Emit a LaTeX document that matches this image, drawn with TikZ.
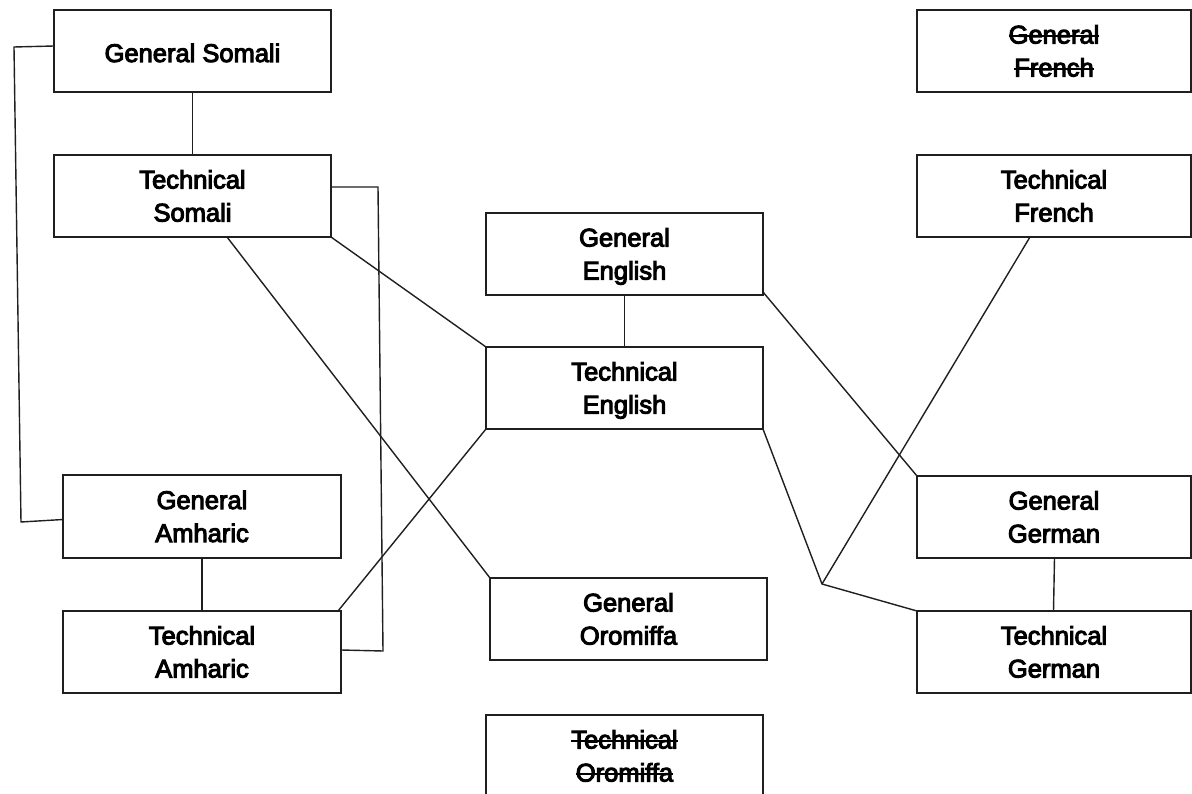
\documentclass[tikz,border=0pt]{standalone}
\usepackage{fontspec}
\setmainfont{Liberation Sans}
\newfontfamily\boxfont{Liberation Sans}[FakeBold=4]
\newsavebox{\strkbox}
\newcommand{\strk}[1]{\sbox{\strkbox}{#1}\rlap{\rule[0.25em]{\wd\strkbox}{1.8pt}}\usebox{\strkbox}}
\newcommand{\twol}[2]{\raisebox{0pt}[51pt][0pt]{\begin{tabular}[b]{@{}c@{}}#1\\#2\end{tabular}}}
\newcommand{\onel}[1]{\raisebox{0pt}[22pt][0pt]{#1}}
\begin{document}
\begin{tikzpicture}[x=1pt,y=-1pt,
  box/.style={draw=black!88, line width=1.4pt, rectangle, inner sep=0pt, outer sep=0pt,
    minimum width=277pt, minimum height=82pt, align=center,
    font=\boxfont\fontsize{25.5}{33}\selectfont},
  rbox/.style={box, minimum width=274pt},
  conn/.style={draw=black!88, line width=1.4pt, line join=miter}]
\useasboundingbox (0,0) rectangle (1192,794);
\node[box] (gs) at (192.5,51) {\onel{General Somali}};
\node[box] (ts) at (192.5,196) {\twol{Technical}{Somali}};
\node[box] (ge) at (624.5,254) {\twol{General}{English}};
\node[box] (te) at (624.5,388) {\twol{Technical}{English}};
\node[box, minimum width=278pt, minimum height=83pt] (ga) at (202,516.5) {\twol{General}{Amharic}};
\node[box, minimum width=278pt] (ta) at (202,652) {\twol{Technical}{Amharic}};
\node[box] (go) at (628.5,619) {\twol{General}{Oromiffa}};
\node[box] (to) at (624.5,756) {\twol{\strk{Technical}}{\strk{Oromiffa}}};
\node[rbox] (gf) at (1054,51) {\twol{\strk{General}}{\strk{French}}};
\node[rbox] (tf) at (1054,196) {\twol{Technical}{French}};
\node[rbox] (gg) at (1054,517) {\twol{General}{German}};
\node[rbox] (tg) at (1054,652) {\twol{Technical}{German}};
\coordinate (c1) at (14,47);
\coordinate (c2) at (21,522);
\coordinate (c3) at (378,187);
\coordinate (c4) at (383,651);
\coordinate (c5) at (822,584);
\draw[conn] ([yshift=5pt]gs.west) -- (c1) -- (c2) -- ([yshift=-3pt]ga.west);
\draw[conn] (gs.south) -- (ts.north);
\draw[conn] ([yshift=9pt]ts.east) -- (c3) -- (c4) -- ([yshift=2pt]ta.east);
\draw[conn] (ts.south east) -- (te.north west);
\draw[conn] ([xshift=34.5pt]ts.south) -- (go.north west);
\draw[conn] (te.south west) -- ([xshift=-3pt]ta.north east);
\draw[conn] (ga.south) -- (ta.north);
\draw[conn] (ge.south) -- (te.north);
\draw[conn] ([yshift=3pt]ge.south east) -- (gg.north west);
\draw[conn] (te.south east) -- (c5) -- (tg.north west);
\draw[conn] ([xshift=-24pt]tf.south) -- (c5);
\draw[conn] ([xshift=0.5pt]gg.south) -- ([xshift=-0.5pt]tg.north);
\end{tikzpicture}
\end{document}
